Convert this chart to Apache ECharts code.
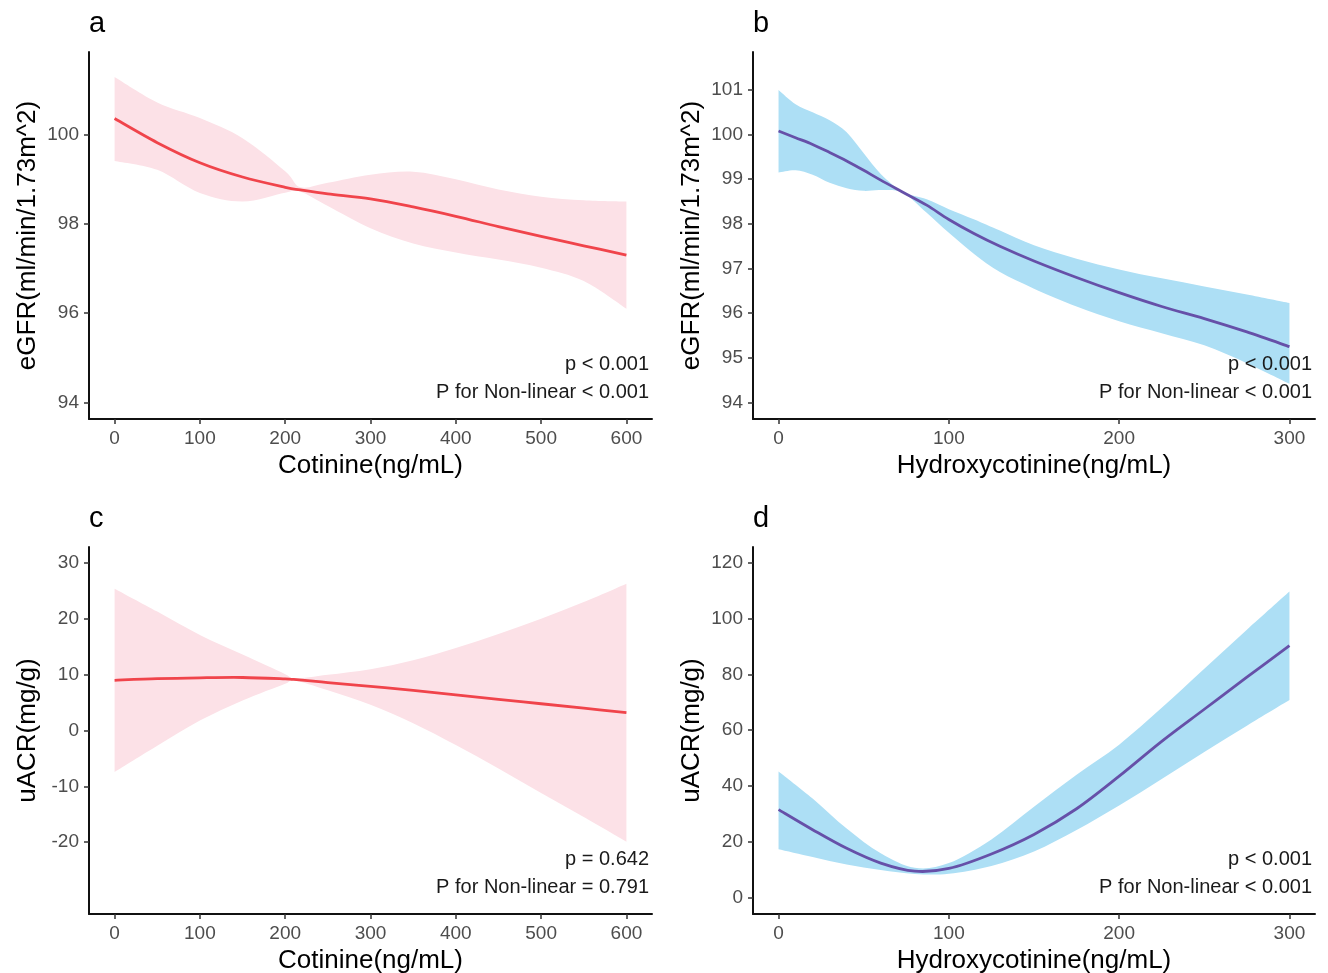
<!DOCTYPE html>
<html>
<head>
<meta charset="utf-8">
<title>RCS eGFR / uACR</title>
<script src="https://cdn.jsdelivr.net/npm/echarts@6/dist/echarts.min.js"></script>
<style>
  html, body { margin: 0; padding: 0; background: #fff; }
  #chart { width: 1328px; height: 973px; }
</style>
</head>
<body>
<div id="chart"></div>
<script>
// a: eGFR vs cotinine
const aX = [0, 50, 100, 150, 200, 218, 250, 300, 350, 400, 450, 500, 550, 600];
const aFit = [100.36, 99.82, 99.37, 99.05, 98.82, 98.76, 98.67, 98.56, 98.38, 98.17, 97.94, 97.72, 97.51, 97.3];
const aUpper = [101.29, 100.72, 100.37, 99.92, 99.18, 98.82, 98.92, 99.1, 99.17, 99.0, 98.77, 98.61, 98.53, 98.5];
const aLower = [99.41, 99.21, 98.69, 98.5, 98.7, 98.72, 98.4, 97.9, 97.56, 97.36, 97.2, 97.02, 96.72, 96.1];

// b: eGFR vs hydroxycotinine
const bX = [0, 10, 20, 30, 40, 50, 60, 73, 87, 100, 115, 130, 150, 175, 200, 225, 250, 275, 300];
const bFit = [100.08, 99.93, 99.78, 99.6, 99.41, 99.2, 98.98, 98.71, 98.42, 98.1, 97.78, 97.5, 97.17, 96.8, 96.46, 96.15, 95.88, 95.58, 95.25];
const bUpper = [101.0, 100.68, 100.5, 100.32, 100.05, 99.58, 99.12, 98.72, 98.55, 98.33, 98.1, 97.85, 97.52, 97.22, 96.98, 96.78, 96.6, 96.42, 96.23];
const bLower = [99.15, 99.2, 99.1, 98.92, 98.8, 98.74, 98.76, 98.7, 98.25, 97.8, 97.32, 96.92, 96.55, 96.15, 95.82, 95.55, 95.28, 94.88, 94.42];

// c: uACR vs cotinine
const cX = [0, 50, 100, 150, 200, 210, 250, 300, 350, 400, 450, 500, 550, 600];
const cFit = [9.0, 9.3, 9.45, 9.5, 9.25, 9.15, 8.6, 7.9, 7.2, 6.4, 5.6, 4.8, 4.0, 3.2];
const cUpper = [25.4, 21.3, 17.1, 13.6, 10.1, 9.3, 10.0, 11.0, 12.6, 14.8, 17.3, 20.0, 23.0, 26.3];
const cLower = [-7.4, -2.7, 1.8, 5.4, 8.4, 9.0, 7.2, 4.6, 1.3, -2.6, -6.8, -11.2, -15.5, -19.9];

// d: uACR vs hydroxycotinine
const dX = [0, 20, 40, 60, 80, 100, 125, 150, 175, 200, 225, 250, 275, 300];
const dFit = [31.5, 24.3, 17.6, 12.3, 9.4, 10.4, 15.6, 22.6, 31.8, 43.5, 56.0, 67.5, 79.0, 90.3];
const dUpper = [45.2, 35.5, 24.7, 15.8, 10.6, 12.3, 20.8, 32.5, 44.0, 54.8, 68.0, 82.0, 96.0, 109.7];
const dLower = [17.3, 14.5, 11.8, 9.8, 8.4, 8.5, 11.3, 16.5, 24.2, 33.0, 42.5, 52.2, 61.6, 70.8];

// tick labels
const cotTicks = [0, 100, 200, 300, 400, 500, 600];
const hydTicks = [0, 100, 200, 300];
const egfrTicksA = [94, 96, 98, 100];
const egfrTicksB = [94, 95, 96, 97, 98, 99, 100, 101];
const uacrTicksC = [-20, -10, 0, 10, 20, 30];
const uacrTicksD = [0, 20, 40, 60, 80, 100, 120];

const pTexts = [
  ['p < 0.001', 'P for Non-linear < 0.001'],
  ['p < 0.001', 'P for Non-linear < 0.001'],
  ['p = 0.642', 'P for Non-linear = 0.791'],
  ['p < 0.001', 'P for Non-linear < 0.001']
];

const FONT = '"Liberation Sans", Arial, sans-serif';
const PINK = '#FCE1E7';
const RED = '#F0444B';
const BLUE = '#ADDFF5';
const PURPLE = '#6650A8';

const panels = [
  { tag: 'a', x: aX, fit: aFit, upper: aUpper, lower: aLower, xMin: -30, xMax: 630, yMin: 93.63, yMax: 101.85,
    xTicks: cotTicks, yTicks: egfrTicksA, xName: 'Cotinine(ng/mL)', yName: 'eGFR(ml/min/1.73m^2)',
    band: PINK, line: RED, left: 89, top: 52, width: 563 },
  { tag: 'b', x: bX, fit: bFit, upper: bUpper, lower: bLower, xMin: -15, xMax: 315, yMin: 93.63, yMax: 101.85,
    xTicks: hydTicks, yTicks: egfrTicksB, xName: 'Hydroxycotinine(ng/mL)', yName: 'eGFR(ml/min/1.73m^2)',
    band: BLUE, line: PURPLE, left: 753, top: 52, width: 562 },
  { tag: 'c', x: cX, fit: cFit, upper: cUpper, lower: cLower, xMin: -30, xMax: 630, yMin: -32.85, yMax: 32.87,
    xTicks: cotTicks, yTicks: uacrTicksC, xName: 'Cotinine(ng/mL)', yName: 'uACR(mg/g)',
    band: PINK, line: RED, left: 89, top: 547, width: 563 },
  { tag: 'd', x: dX, fit: dFit, upper: dUpper, lower: dLower, xMin: -15, xMax: 315, yMin: -5.95, yMax: 125.7,
    xTicks: hydTicks, yTicks: uacrTicksD, xName: 'Hydroxycotinine(ng/mL)', yName: 'uACR(mg/g)',
    band: BLUE, line: PURPLE, left: 753, top: 547, width: 562 }
];
const PLOT_H = 367;

// smooth (catmull-rom) path segments through pixel points, without the leading move
function curveThrough(pts) {
  let d = '';
  for (let i = 0; i < pts.length - 1; i++) {
    const p0 = pts[i - 1] || pts[i];
    const p1 = pts[i];
    const p2 = pts[i + 1];
    const p3 = pts[i + 2] || p2;
    const c1x = p1[0] + (p2[0] - p0[0]) / 6, c1y = p1[1] + (p2[1] - p0[1]) / 6;
    const c2x = p2[0] - (p3[0] - p1[0]) / 6, c2y = p2[1] - (p3[1] - p1[1]) / 6;
    d += ' C' + c1x + ',' + c1y + ' ' + c2x + ',' + c2y + ' ' + p2[0] + ',' + p2[1];
  }
  return d;
}

function bandSeries(p, i) {
  return {
    type: 'custom', xAxisIndex: i, yAxisIndex: i, silent: true, z: 1,
    data: [[p.x[0], p.fit[0]]],
    renderItem: function (params, api) {
      const up = p.x.map(function (x, k) { return api.coord([x, p.upper[k]]); });
      const lo = p.x.map(function (x, k) { return api.coord([x, p.lower[k]]); }).reverse();
      const d = 'M' + up[0][0] + ',' + up[0][1] + curveThrough(up) +
        ' L' + lo[0][0] + ',' + lo[0][1] + curveThrough(lo) + ' Z';
      return { type: 'path', shape: { pathData: d }, style: { fill: p.band, stroke: null } };
    }
  };
}

function fitSeries(p, i) {
  return {
    type: 'custom', xAxisIndex: i, yAxisIndex: i, silent: true, z: 3,
    data: [[p.x[0], p.fit[0]]],
    renderItem: function (params, api) {
      const pts = p.x.map(function (x, k) { return api.coord([x, p.fit[k]]); });
      const d = 'M' + pts[0][0] + ',' + pts[0][1] + curveThrough(pts);
      return { type: 'path', shape: { pathData: d }, style: { fill: null, stroke: p.line, lineWidth: 2.8 } };
    }
  };
}

const grids = [], xAxes = [], yAxes = [], series = [], graphics = [];

panels.forEach(function (p, i) {
  grids.push({ left: p.left, top: p.top, width: p.width, height: PLOT_H, outerBoundsMode: 'none', containLabel: false });

  xAxes.push({
    type: 'value', gridIndex: i, min: p.xMin, max: p.xMax,
    name: p.xName, nameLocation: 'middle', nameGap: 34,
    nameTextStyle: { fontFamily: FONT, fontSize: 26, color: '#000' },
    axisLine: { show: true, onZero: false, lineStyle: { color: '#111', width: 2 } },
    axisTick: { show: true, length: 5, customValues: p.xTicks, lineStyle: { color: '#333', width: 1.5 } },
    axisLabel: { customValues: p.xTicks, margin: 10, fontFamily: FONT, fontSize: 19, color: '#4d4d4d' },
    splitLine: { show: false }
  });

  yAxes.push({
    type: 'value', gridIndex: i, min: p.yMin, max: p.yMax,
    name: p.yName, nameLocation: 'middle', nameGap: 48,
    nameTextStyle: { fontFamily: FONT, fontSize: 26, color: '#000' },
    axisLine: { show: true, onZero: false, lineStyle: { color: '#111', width: 2 } },
    axisTick: { show: true, length: 5, customValues: p.yTicks, lineStyle: { color: '#333', width: 1.5 } },
    axisLabel: { customValues: p.yTicks, margin: 10, fontFamily: FONT, fontSize: 19, color: '#4d4d4d' },
    splitLine: { show: false }
  });

  // confidence band, then fitted curve on top
  series.push(bandSeries(p, i));
  series.push(fitSeries(p, i));

  // panel tag
  graphics.push({
    type: 'text', left: p.left + 0, top: p.top - 43, z: 100,
    style: { text: p.tag, fontFamily: FONT, fontSize: 29, fill: '#000' }
  });
  // p values
  const right = p.left + p.width - 3;
  const baseY = p.top + PLOT_H;
  graphics.push({
    type: 'text', x: right, y: baseY - 55, z: 100,
    style: { text: pTexts[i][0], fontFamily: FONT, fontSize: 20, fill: '#1a1a1a', align: 'right', verticalAlign: 'middle' }
  });
  graphics.push({
    type: 'text', x: right, y: baseY - 27, z: 100,
    style: { text: pTexts[i][1], fontFamily: FONT, fontSize: 20, fill: '#1a1a1a', align: 'right', verticalAlign: 'middle' }
  });
});

const chart = echarts.init(document.getElementById('chart'));
chart.setOption({
  animation: false,
  backgroundColor: '#fff',
  grid: grids,
  xAxis: xAxes,
  yAxis: yAxes,
  series: series,
  graphic: graphics
});
</script>
</body>
</html>
